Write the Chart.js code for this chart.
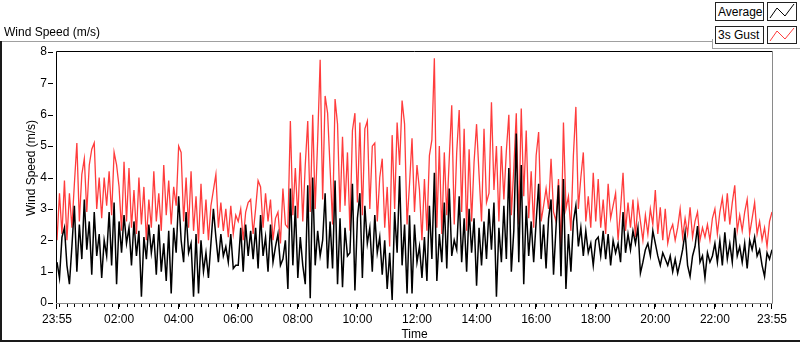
<!DOCTYPE html>
<html><head><meta charset="utf-8">
<script src="https://cdn.jsdelivr.net/npm/chart.js@4.4.1/dist/chart.umd.min.js"></script>
<style>
html,body{margin:0;padding:0;background:#fff;}
body{width:800px;height:342px;position:relative;overflow:hidden;font-family:"Liberation Sans",Arial,sans-serif;font-size:12px;color:#000;}
#c{position:absolute;left:0;top:0;}
.abs{position:absolute;}
.lbox{position:absolute;box-sizing:border-box;border:1px solid #222;background:#fff;line-height:16px;padding-left:2px;white-space:nowrap;}
.sbox{position:absolute;box-sizing:border-box;border:1px solid #222;background:#fff;}
</style></head><body>
<canvas id="c" width="800" height="342"></canvas>
<div class="abs" style="left:0;top:41px;width:712px;height:1px;background:#a0a0a0"></div>
<div class="abs" style="left:0;top:41px;width:2px;height:301px;background:#1a1a1a"></div>
<div class="abs" style="left:0;top:340px;width:800px;height:2px;background:#1a1a1a"></div>
<div class="abs" style="left:712px;top:39px;width:1px;height:10px;background:#a0a0a0"></div>
<div class="abs" style="left:712px;top:48px;width:88px;height:1px;background:#a0a0a0"></div>
<div class="abs" style="left:4px;top:25px;line-height:14px;white-space:nowrap">Wind Speed (m/s)</div>
<div class="abs" style="left:31px;top:168px;transform:translate(-50%,-50%) rotate(-90deg);white-space:nowrap;line-height:14px">Wind Speed (m/s)</div>
<div class="lbox" style="left:715px;top:2px;width:49px;height:19px;padding-top:1px">Average</div>
<div class="sbox" style="left:767px;top:2px;width:30px;height:19px"><svg width="28" height="17" style="position:absolute;left:0;top:0"><polyline points="2,15 9,5 17,13 26,1" fill="none" stroke="#000" stroke-width="1"/></svg></div>
<div class="lbox" style="left:715px;top:26px;width:49px;height:18px">3s Gust</div>
<div class="sbox" style="left:767px;top:26px;width:30px;height:18px"><svg width="28" height="16" style="position:absolute;left:0;top:0"><polyline points="2,14 9,4 17,12 26,1" fill="none" stroke="#ff3c3c" stroke-width="1"/></svg></div>
<script>
// sampling: one value every 5 minutes starting 23:55
const intervalMinutes = 5;
const tickMinutes = [0,125,245,365,485,605,725,845,965,1085,1205,1325,1440];
const tickLabels = ['23:55','02:00','04:00','06:00','08:00','10:00','12:00','14:00','16:00','18:00','20:00','22:00','23:55'];
const yTickValues = [0,1,2,3,4,5,6,7,8];

const gustSpeed = [
2.0,3.5,2.2,3.9,2.0,3.5,2.4,3.8,5.1,2.6,4.1,4.6,2.9,4.4,4.9,5.1,3.0,4.0,2.7,4.0,3.1,4.2,2.8,4.8,4.4,
3.7,2.3,4.5,2.6,4.3,2.4,3.6,2.2,4.0,2.5,3.7,2.0,3.3,2.4,4.2,2.6,3.5,2.3,4.4,2.8,3.9,2.5,3.7,3.1,5.0,
4.8,2.6,4.0,2.4,4.2,2.3,3.4,1.9,3.8,2.2,3.3,2.0,3.1,3.6,4.1,2.4,3.2,2.3,3.0,2.1,3.1,2.2,2.8,
2.6,3.0,2.0,2.9,3.2,3.3,2.2,3.0,3.9,3.7,2.4,3.5,2.6,3.3,2.0,2.7,2.9,1.9,3.65,2.5,2.4,5.8,2.8,4.3,2.7,
4.8,2.6,4.4,5.8,2.9,6.0,3.0,5.2,7.75,3.3,6.6,6.05,4.3,2.5,6.5,5.7,2.9,5.3,3.1,4.8,2.3,5.5,6.05,3.2,
5.75,2.8,5.55,5.8,3.0,5.0,5.1,2.6,4.0,4.6,2.4,3.7,1.8,5.35,3.0,5.75,4.4,6.45,5.7,2.5,3.8,5.25,2.9,4.4,
3.6,2.0,3.95,2.3,4.7,5.2,7.8,2.4,5.0,2.2,4.8,2.8,4.6,6.3,2.5,4.8,6.15,2.9,5.55,2.3,4.9,2.6,4.5,5.7,
4.1,2.6,5.55,3.2,3.5,6.4,3.6,5.0,2.6,5.0,3.3,4.85,6.0,2.8,4.3,6.05,2.5,6.2,3.4,5.5,2.7,4.2,2.4,4.7,
5.45,2.6,3.1,3.65,3.0,4.6,2.9,2.6,3.95,1.7,5.75,3.0,3.4,2.3,4.7,6.25,3.0,4.0,4.8,2.6,3.4,2.4,4.15,2.6,
3.95,2.4,3.3,2.2,3.8,2.7,3.1,3.5,2.0,3.0,4.15,2.3,3.2,2.4,3.3,2.1,3.2,2.6,2.0,2.8,2.2,3.0,2.5,3.6,
2.2,3.05,2.0,3.0,1.9,2.3,2.5,2.0,2.4,3.0,2.1,2.7,2.2,3.05,2.1,2.6,2.9,2.0,2.4,2.1,2.5,2.0,2.7,3.0,
2.2,2.9,3.35,2.6,3.5,2.5,3.2,3.75,2.3,2.8,2.3,2.9,3.3,2.2,2.7,3.2,2.2,2.6,2.0,2.4,1.8,2.6,2.9
];

const averageSpeed = [
1.3,0.8,2.1,2.4,1.2,0.6,1.8,3.1,1.0,2.5,1.4,3.3,1.7,2.6,0.9,2.9,1.5,2.2,0.8,2.0,1.5,2.9,1.2,3.2,0.6,
2.6,1.6,2.8,1.9,2.4,1.2,2.6,1.5,2.3,0.2,2.1,1.4,2.5,1.6,2.2,0.9,2.5,1.0,1.9,0.7,2.3,0.3,2.4,1.6,3.4,
2.0,1.3,2.9,1.6,1.9,0.2,2.2,0.3,2.0,1.0,1.6,0.8,1.9,3.0,2.1,1.3,2.2,1.5,1.8,1.3,2.2,1.1,1.2,
1.2,2.4,1.0,2.5,1.5,2.3,1.4,2.4,1.1,2.8,1.5,2.1,1.0,2.5,1.3,1.8,2.2,1.2,1.4,2.0,0.45,3.65,1.2,3.1,0.8,
2.1,1.2,0.6,3.75,0.15,4.0,1.2,2.3,1.5,2.0,3.5,1.1,2.6,1.1,3.9,0.6,2.7,0.5,2.4,1.5,1.6,3.8,0.4,2.7,
3.5,0.8,3.1,1.9,2.4,1.0,2.8,1.6,2.1,0.9,2.0,0.45,1.6,0.1,2.9,1.6,4.05,1.2,2.5,0.3,2.8,0.3,2.5,1.3,
1.8,0.8,2.1,0.7,3.1,1.4,4.15,0.7,2.2,1.3,3.2,1.1,3.65,1.5,2.0,1.7,3.4,1.3,2.7,1.0,3.0,1.6,2.7,0.55,
2.4,1.2,2.6,1.4,3.0,1.7,3.2,0.2,2.4,1.3,3.1,1.4,4.3,1.0,2.3,5.4,1.3,4.4,0.6,3.1,1.5,2.6,1.3,2.6,
3.8,1.4,2.5,1.1,2.7,3.3,0.9,2.4,3.75,0.85,3.95,0.45,2.2,1.0,2.6,3.1,1.8,2.4,1.5,2.3,1.6,1.9,1.2,2.0,
2.1,1.5,2.3,1.4,2.2,1.2,2.0,1.6,1.9,1.3,2.9,1.6,2.2,1.7,2.3,1.9,2.4,0.95,1.3,1.7,1.9,1.5,2.3,1.9,
1.5,1.2,1.6,1.4,1.2,1.5,1.0,1.4,0.95,1.3,1.7,2.25,1.2,0.85,1.5,1.8,2.45,1.3,1.5,0.8,1.6,1.3,1.5,1.9,
1.3,2.0,1.2,2.25,1.4,1.9,1.3,2.4,1.5,1.8,1.3,1.9,1.1,2.0,1.7,2.1,1.5,1.7,1.2,0.85,1.6,1.4,1.7
];

const toPoints = arr => arr.map((v, i) => ({x: i * intervalMinutes, y: v}));

// minor x ticks every 15 min, aligned to the clock (first at 00:00 = 5 min after start)
const minorTickMinutes = [];
for (let m = 5; m < 1440; m += 15) minorTickMinutes.push(m);

const FONT = {family: '"Liberation Sans", Arial, sans-serif', size: 12};

const framePlugin = {
  id: 'frame',
  afterDraw(chart) {
    const {ctx, chartArea: a, scales: {x, y}} = chart;
    ctx.save();
    ctx.lineWidth = 1;
    ctx.strokeStyle = '#000';
    ctx.beginPath();
    ctx.moveTo(a.left - 0.5, a.bottom + 0.5);
    ctx.lineTo(a.left - 0.5, a.top - 0.5);
    ctx.lineTo(a.right + 0.5, a.top - 0.5);
    ctx.stroke();
    ctx.strokeStyle = '#8a8a8a';
    ctx.beginPath();
    ctx.moveTo(a.right + 0.5, a.top - 0.5);
    ctx.lineTo(a.right + 0.5, a.bottom + 0.5);
    ctx.lineTo(a.left - 0.5, a.bottom + 0.5);
    ctx.stroke();
    ctx.strokeStyle = '#000';
    ctx.beginPath();
    minorTickMinutes.forEach(m => {
      const px = Math.round(x.getPixelForValue(m)) + 0.5;
      ctx.moveTo(px, a.bottom + 1); ctx.lineTo(px, a.bottom + 4);
    });
    tickMinutes.forEach(m => {
      const px = Math.round(x.getPixelForValue(m)) - 0.5;
      ctx.moveTo(px, a.bottom + 1); ctx.lineTo(px, a.bottom + 6);
    });
    yTickValues.forEach(v => {
      const py = Math.round(y.getPixelForValue(v)) + 0.5;
      ctx.moveTo(a.left - 9, py); ctx.lineTo(a.left - 4, py);
    });
    ctx.stroke();
    ctx.restore();
  }
};

new Chart(document.getElementById('c'), {
  type: 'line',
  data: {
    datasets: [
      {label: 'Average', data: toPoints(averageSpeed), borderColor: '#000000', borderWidth: 1.5, pointRadius: 0, tension: 0, fill: false},
      {label: '3s Gust', data: toPoints(gustSpeed), borderColor: '#ff3c3c', borderWidth: 1.3, pointRadius: 0, tension: 0, fill: false}
    ]
  },
  options: {
    responsive: false,
    animation: false,
    events: [],
    layout: {padding: {left: 0, top: 52, right: 28, bottom: 0}},
    plugins: {legend: {display: false}, tooltip: {enabled: false}, title: {display: false}},
    scales: {
      x: {
        type: 'linear', min: 0, max: 1440,
        grid: {display: false, drawTicks: false},
        border: {display: false},
        afterBuildTicks: s => { s.ticks = tickMinutes.map(v => ({value: v})); },
        afterFit: s => { s.height = 39; },
        ticks: {autoSkip: false, maxRotation: 0, padding: 9, color: '#000', font: FONT,
                callback: (v, i) => tickLabels[i]},
        title: {display: true, text: 'Time', color: '#000', font: FONT, padding: {top: 0, bottom: 0}}
      },
      y: {
        type: 'linear', min: 0, max: 8,
        grid: {display: false, drawTicks: false},
        border: {display: false},
        afterBuildTicks: s => { s.ticks = yTickValues.map(v => ({value: v})); },
        afterFit: s => { s.width = 57; },
        ticks: {padding: 10, color: '#000', font: FONT}
      }
    }
  },
  plugins: [framePlugin]
});
</script>
</body></html>
